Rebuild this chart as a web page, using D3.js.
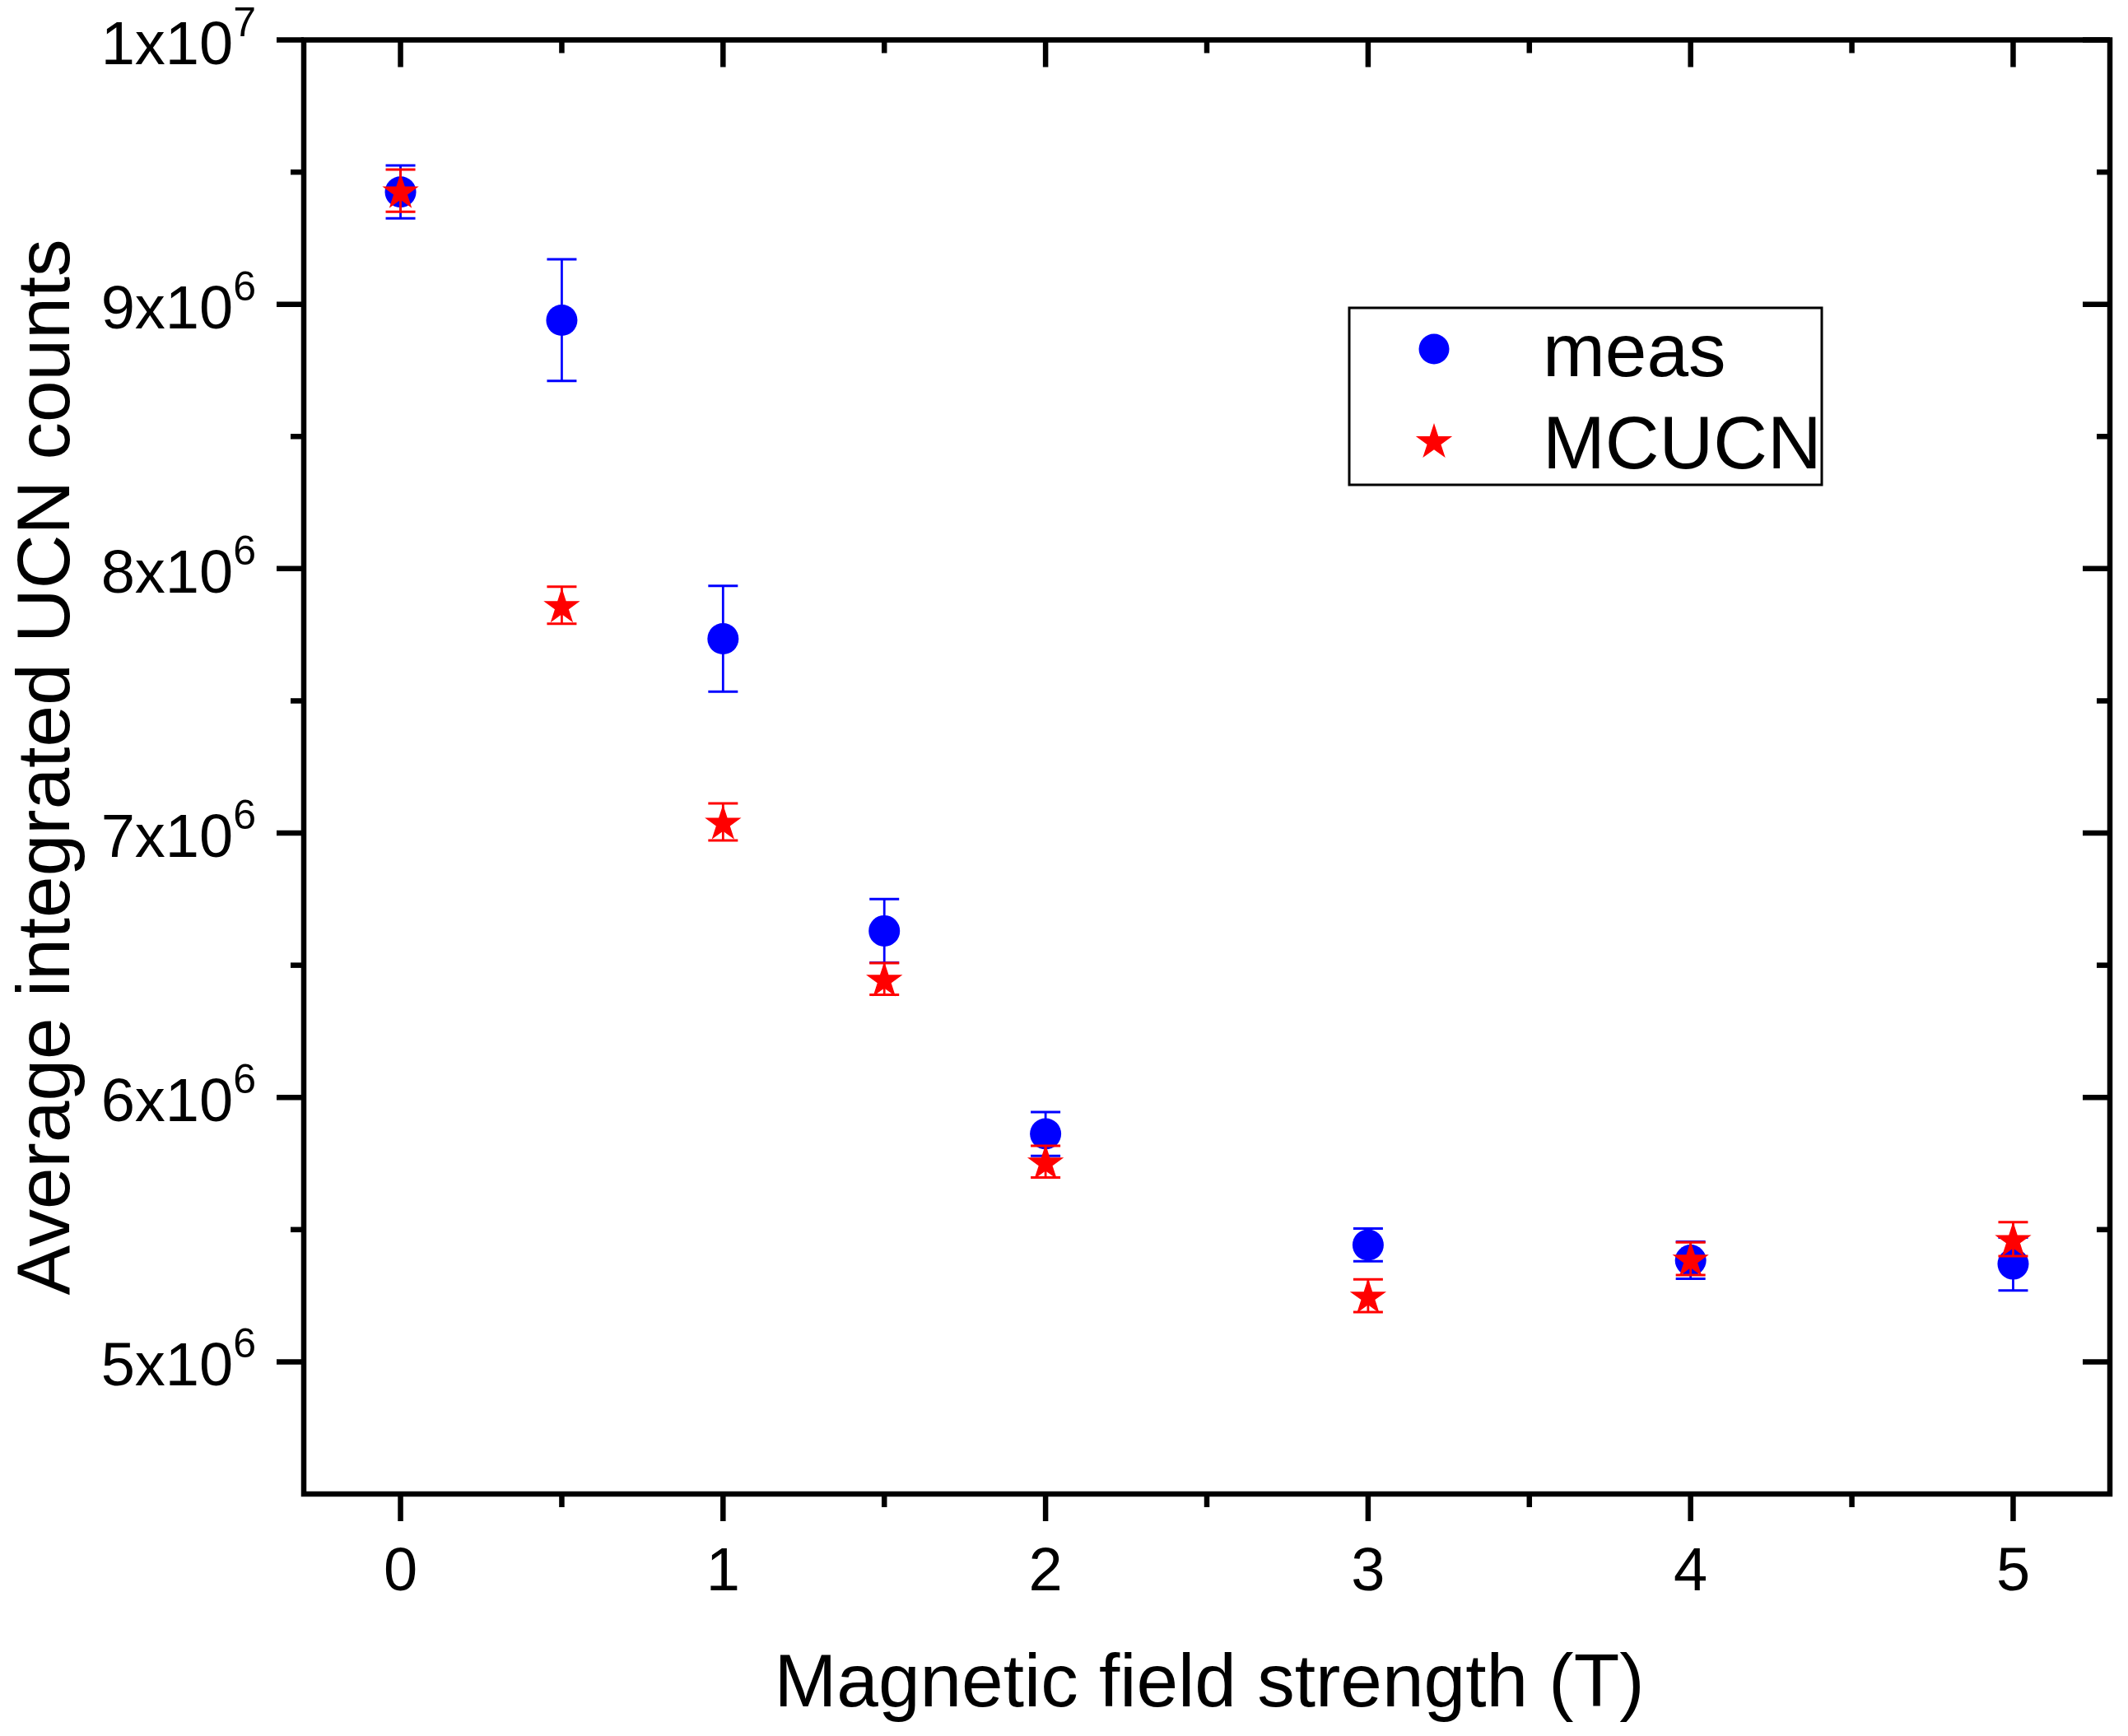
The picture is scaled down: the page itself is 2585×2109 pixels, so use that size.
<!DOCTYPE html>
<html>
<head>
<meta charset="utf-8">
<script src="https://cdn.jsdelivr.net/npm/d3@7/dist/d3.min.js"></script>
<style>
  html, body { margin: 0; padding: 0; background: #ffffff; }
  svg { display: block; }
  text { font-family: "Liberation Sans", Arial, sans-serif; fill: #000000; }
</style>
</head>
<body>
<div id="chart"></div>
<script>
// field strength (T)
const fieldT = [0, 0.5, 1, 1.5, 2, 3, 4, 5];
// measured counts and errors
const measCounts = [9.425e6, 8.94e6, 7.735e6, 6.63e6, 5.862e6, 5.442e6, 5.384e6, 5.37e6];
const measErr = [0.10e6, 0.23e6, 0.20e6, 0.12e6, 0.083e6, 0.062e6, 0.07e6, 0.10e6];
// MCUCN simulation counts and errors
const mcucnCounts = [9.43e6, 7.862e6, 7.042e6, 6.448e6, 5.757e6, 5.25e6, 5.39e6, 5.464e6];
const mcucnErr = [0.08e6, 0.07e6, 0.07e6, 0.06e6, 0.06e6, 0.062e6, 0.062e6, 0.064e6];

const xMajorTicks = [0, 1, 2, 3, 4, 5];
const xMinorTicks = [0.5, 1.5, 2.5, 3.5, 4.5];
const yMajorTicks = [5e6, 6e6, 7e6, 8e6, 9e6, 1e7];
const yMinorTicks = [5.5e6, 6.5e6, 7.5e6, 8.5e6, 9.5e6];
const seriesNames = ['meas', 'MCUCN'];

const width = 2585;
const height = 2109;
const plot = { left: 369, right: 2563, top: 48.5, bottom: 1815 };

const x = d3.scaleLinear().domain([-0.3, 5.3]).range([plot.left, plot.right]);
const y = d3.scaleLinear().domain([4.5e6, 1e7]).range([plot.bottom, plot.top]);

const blue = '#0000ff';
const red = '#ff0000';
const axisW = 6.5;
const majorLen = 33;
const minorLen = 16;

const svg = d3.select('#chart').append('svg')
    .attr('width', width)
    .attr('height', height)
    .attr('viewBox', `0 0 ${width} ${height}`);

// ticks (outward on bottom/left, inward on top/right)
function tickLines(cls, ticks, len, orient) {
    const g = svg.append('g').attr('class', cls);
    g.selectAll('line').data(ticks).join('line')
        .attr('x1', (d) => orient === 'b' || orient === 't' ? x(d) : (orient === 'l' ? plot.left : plot.right))
        .attr('x2', (d) => orient === 'b' || orient === 't' ? x(d) : (orient === 'l' ? plot.left - len : plot.right - len))
        .attr('y1', (d) => orient === 'l' || orient === 'r' ? y(d) : (orient === 'b' ? plot.bottom : plot.top))
        .attr('y2', (d) => orient === 'l' || orient === 'r' ? y(d) : (orient === 'b' ? plot.bottom + len : plot.top + len))
        .attr('stroke', '#000')
        .attr('stroke-width', axisW);
}
tickLines('xb-major', xMajorTicks, majorLen, 'b');
tickLines('xb-minor', xMinorTicks, minorLen, 'b');
tickLines('xt-major', xMajorTicks, majorLen, 't');
tickLines('xt-minor', xMinorTicks, minorLen, 't');
tickLines('yl-major', yMajorTicks, majorLen, 'l');
tickLines('yl-minor', yMinorTicks, minorLen, 'l');
tickLines('yr-major', yMajorTicks, majorLen, 'r');
tickLines('yr-minor', yMinorTicks, minorLen, 'r');

// frame
svg.append('rect')
    .attr('x', plot.left)
    .attr('y', plot.top)
    .attr('width', plot.right - plot.left)
    .attr('height', plot.bottom - plot.top)
    .attr('fill', 'none')
    .attr('stroke', '#000')
    .attr('stroke-width', axisW)
    .attr('stroke-linecap', 'square');

// x tick labels
svg.append('g').selectAll('text').data(xMajorTicks).join('text')
    .attr('x', (d) => x(d))
    .attr('y', plot.bottom + 117)
    .attr('text-anchor', 'middle')
    .attr('font-size', 74)
    .text((d) => String(d));

// y tick labels  "Nx10^e"
const yLab = svg.append('g').selectAll('text').data(yMajorTicks).join('text')
    .attr('x', plot.left - 58)
    .attr('y', (d) => y(d) + 29)
    .attr('text-anchor', 'end')
    .attr('font-size', 74);
yLab.each(function (d) {
    const e = Math.floor(Math.log10(d) + 1e-9);
    const m = Math.round(d / Math.pow(10, e));
    const t = d3.select(this);
    t.append('tspan').text(`${m}x10`);
    t.append('tspan').attr('dy', -34).attr('font-size', 50).text(String(e));
});

// axis titles
svg.append('text')
    .attr('x', 1469)
    .attr('y', 2073)
    .attr('text-anchor', 'middle')
    .attr('font-size', 91)
    .text('Magnetic field strength (T)');

svg.append('text')
    .attr('transform', `translate(84, 932) rotate(-90)`)
    .attr('text-anchor', 'middle')
    .attr('font-size', 91)
    .text('Average integrated UCN counts');

// error bars
const capHalf = 18;
function errorBars(vals, errs, color) {
    const rows = fieldT.map((t, i) => ({ t, v: vals[i], e: errs[i] }));
    const g = svg.append('g').attr('stroke', color);
    g.selectAll('line.stem').data(rows).join('line')
        .attr('class', 'stem')
        .attr('x1', (d) => x(d.t)).attr('x2', (d) => x(d.t))
        .attr('y1', (d) => y(d.v + d.e)).attr('y2', (d) => y(d.v - d.e))
        .attr('stroke-width', 2.8);
    g.selectAll('line.cap-hi').data(rows).join('line')
        .attr('class', 'cap-hi')
        .attr('x1', (d) => x(d.t) - capHalf).attr('x2', (d) => x(d.t) + capHalf)
        .attr('y1', (d) => y(d.v + d.e)).attr('y2', (d) => y(d.v + d.e))
        .attr('stroke-width', 3);
    g.selectAll('line.cap-lo').data(rows).join('line')
        .attr('class', 'cap-lo')
        .attr('x1', (d) => x(d.t) - capHalf).attr('x2', (d) => x(d.t) + capHalf)
        .attr('y1', (d) => y(d.v - d.e)).attr('y2', (d) => y(d.v - d.e))
        .attr('stroke-width', 3);
}

const circleR = 19;
const starSize = 610;
const starR = Math.sqrt(starSize * 0.8908130915292852);
const starDy = starR * (1 - Math.cos(Math.PI / 5)) / 2;
const starPath = d3.symbol().type(d3.symbolStar).size(starSize)();

errorBars(measCounts, measErr, blue);
svg.append('g').selectAll('circle').data(fieldT).join('circle')
    .attr('cx', (d) => x(d))
    .attr('cy', (d, i) => y(measCounts[i]))
    .attr('r', circleR)
    .attr('fill', blue);

errorBars(mcucnCounts, mcucnErr, red);
svg.append('g').selectAll('path').data(fieldT).join('path')
    .attr('d', starPath)
    .attr('transform', (d, i) => `translate(${x(d)},${y(mcucnCounts[i]) + starDy})`)
    .attr('fill', red);

// legend
const leg = svg.append('g');
leg.append('rect')
    .attr('x', 1639).attr('y', 374)
    .attr('width', 574).attr('height', 215)
    .attr('fill', '#fff')
    .attr('stroke', '#000')
    .attr('stroke-width', 3);
leg.append('circle')
    .attr('cx', 1742).attr('cy', 424).attr('r', 18.5).attr('fill', blue);
leg.append('path')
    .attr('d', starPath)
    .attr('transform', `translate(1742,${535 + starDy})`)
    .attr('fill', red);
leg.selectAll('text').data(seriesNames).join('text')
    .attr('x', 1874)
    .attr('y', (d, i) => 457 + i * 112)
    .attr('font-size', 91)
    .text((d) => d);
</script>
</body>
</html>
